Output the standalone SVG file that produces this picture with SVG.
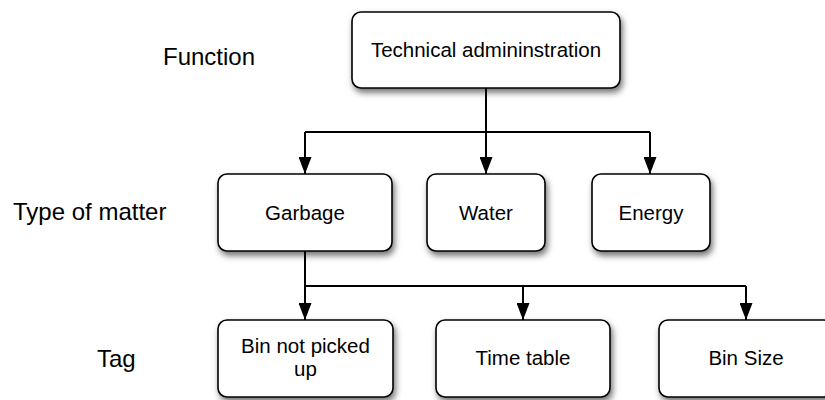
<svg xmlns="http://www.w3.org/2000/svg" width="825" height="400" viewBox="0 0 825 400">
  <style>
    .box { fill: #ffffff; stroke: #000000; stroke-width: 1.6; filter: url(#shadow); }
    .node-text { font-family: "Liberation Sans", Arial, sans-serif; font-size: 20.5px; fill: #000000; text-anchor: middle; }
    .level { font-family: "Liberation Sans", Arial, sans-serif; font-size: 24px; fill: #000000; }
    .wire { fill: none; stroke: #000000; stroke-width: 2; }
  </style>
  <defs>
    <filter id="shadow" x="-20%" y="-20%" width="150%" height="160%">
      <feDropShadow dx="2" dy="4" stdDeviation="3" flood-color="#000000" flood-opacity="0.55"/>
    </filter>
    <marker id="arrow" markerUnits="userSpaceOnUse" markerWidth="17" markerHeight="13" refX="17" refY="6.5" orient="auto" viewBox="0 0 17 13">
      <path d="M0,0 L17,6.5 L0,13 Z" fill="#000000"/>
    </marker>
  </defs>

  <rect width="825" height="400" fill="#ffffff"/>

  <!-- level labels -->
  <g id="level-labels">
    <text class="level" x="163" y="65">Function</text>
    <text class="level" x="13" y="220">Type of matter</text>
    <text class="level" x="97" y="367">Tag</text>
  </g>

  <!-- connectors -->
  <g id="connectors">
    <path class="wire" d="M486,88 V132"/>
    <path class="wire" d="M305,132 H650"/>
    <path class="wire" d="M305,132 V174" marker-end="url(#arrow)"/>
    <path class="wire" d="M486,132 V174" marker-end="url(#arrow)"/>
    <path class="wire" d="M650,132 V174" marker-end="url(#arrow)"/>

    <path class="wire" d="M305,251 V286"/>
    <path class="wire" d="M305,286 H746"/>
    <path class="wire" d="M305,286 V320" marker-end="url(#arrow)"/>
    <path class="wire" d="M523,286 V320" marker-end="url(#arrow)"/>
    <path class="wire" d="M746,286 V320" marker-end="url(#arrow)"/>
  </g>

  <!-- function -->
  <g id="technical-administration">
    <rect class="box" x="352" y="12" width="268" height="76" rx="9"/>
    <text class="node-text" x="486" y="57">Technical admininstration</text>
  </g>

  <!-- types of matter -->
  <g id="garbage">
    <rect class="box" x="218" y="174" width="174" height="77" rx="9"/>
    <text class="node-text" x="305" y="219.5">Garbage</text>
  </g>
  <g id="water">
    <rect class="box" x="427" y="174" width="118" height="77" rx="9"/>
    <text class="node-text" x="486" y="219.5">Water</text>
  </g>
  <g id="energy">
    <rect class="box" x="592" y="174" width="118" height="77" rx="9"/>
    <text class="node-text" x="651" y="219.5">Energy</text>
  </g>

  <!-- tags -->
  <g id="bin-not-picked-up">
    <rect class="box" x="218" y="320" width="175" height="77" rx="9"/>
    <text class="node-text" x="305.5" y="352.5">Bin not picked</text>
    <text class="node-text" x="305.5" y="376">up</text>
  </g>
  <g id="time-table">
    <rect class="box" x="436" y="320" width="174" height="77" rx="9"/>
    <text class="node-text" x="523" y="365">Time table</text>
  </g>
  <g id="bin-size">
    <rect class="box" x="659" y="320" width="174" height="77" rx="9"/>
    <text class="node-text" x="746" y="365">Bin Size</text>
  </g>
</svg>
